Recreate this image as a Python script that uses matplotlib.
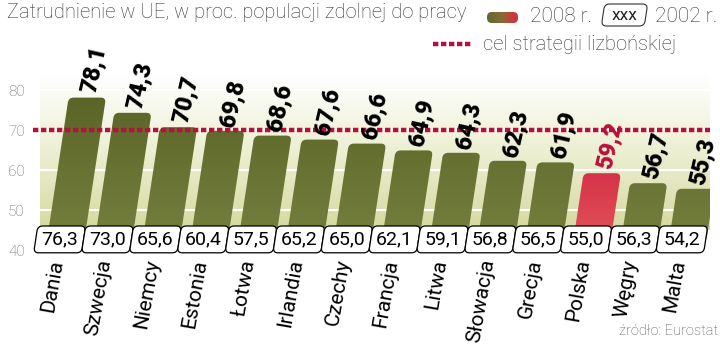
import matplotlib.pyplot as plt
import matplotlib.transforms as mtransforms
from matplotlib.patches import FancyBboxPatch
from matplotlib.colors import LinearSegmentedColormap
from matplotlib.lines import Line2D
import numpy as np

countries = ['Dania', 'Szwecja', 'Niemcy', 'Estonia', 'Łotwa', 'Irlandia', 'Czechy',
             'Francja', 'Litwa', 'Słowacja', 'Grecja', 'Polska', 'Węgry', 'Malta']
v2008 = [78.1, 74.3, 70.7, 69.8, 68.6, 67.6, 66.6, 64.9, 64.3, 62.3, 61.9, 59.2, 56.7, 55.3]
v2002 = [76.3, 73.0, 65.6, 60.4, 57.5, 65.2, 65.0, 62.1, 59.1, 56.8, 56.5, 55.0, 56.3, 54.2]
highlight = 'Polska'
target = 70
yticks = [40, 50, 60, 70, 80]

title = 'Zatrudnienie w UE, w proc. populacji zdolnej do pracy'
source = 'źródło: Eurostat'

font = ['Roboto', 'DejaVu Sans']
red = '#b8103a'


def fmt(v):
    return f'{v:.1f}'.replace('.', ',')


def skew(base, k):
    # lean everything to the right, pivot at y = base
    return (mtransforms.Affine2D().translate(0, -base)
            .skew(np.arctan(k), 0).translate(0, base))


fig = plt.figure(figsize=(7.2, 3.46), dpi=100)
ax = fig.add_axes([40 / 720, (346 - 266) / 346, 670 / 720, 200 / 346])
x = np.arange(len(countries))

# background gradient + white grid
bg = LinearSegmentedColormap.from_list('bg', ['#d6d9a0', '#ecefd2', '#ffffff'])
ax.imshow(np.linspace(0, 1, 256).reshape(-1, 1), origin='lower', cmap=bg,
          extent=(-0.5, 13.5, 45, 84), aspect='auto', zorder=0)
for g in [50, 60, 70, 80]:
    ax.axhline(g, color='white', lw=1.5, zorder=1)

green = LinearSegmentedColormap.from_list('g', ['#75803f', '#5a6427'])
reds = LinearSegmentedColormap.from_list('r', ['#e2535a', '#c70f33'])
grad = np.linspace(0, 1, 256).reshape(-1, 1)

k = 0.0127
w = 0.78
bar_tr = skew(46, k) + ax.transData
for i, (c, v) in enumerate(zip(countries, v2008)):
    patch = FancyBboxPatch((i + 0.08 - w / 2, 42), w, v - 42,
                           boxstyle='round,pad=0,rounding_size=0.105',
                           mutation_aspect=12, transform=bar_tr,
                           facecolor='none', edgecolor='none', zorder=2)
    ax.add_patch(patch)
    im = ax.imshow(grad, origin='lower', cmap=reds if c == highlight else green,
                   extent=(i - 0.6, i + 0.9, 42, 79), aspect='auto', zorder=2)
    im.set_clip_path(patch)
    ax.text(i + 0.1, v + 1.2, fmt(v), transform=bar_tr, rotation=77,
            rotation_mode='anchor', ha='left', va='center', fontsize=17,
            fontweight='heavy', family=font,
            color=red if c == highlight else 'black', zorder=5)

ax.hlines(target, -0.65, 13.5, color=red, lw=3.2, ls=(0, (1.2, 0.6)),
          zorder=4, clip_on=False)

# 2002 values in boxes
box_tr = skew(42.6, k) + ax.transData
for i, v in enumerate(v2002):
    ax.add_patch(FancyBboxPatch((i - 0.09 - 0.5, 39.3), 1.0, 6.7,
                                boxstyle='round,pad=0,rounding_size=0.1',
                                mutation_aspect=12.5, transform=box_tr,
                                facecolor='white', edgecolor='black', lw=0.9,
                                zorder=6, clip_on=False))
    ax.text(i - 0.09, 42.6, fmt(v), ha='center', va='center', fontsize=14,
            family=font, color='black', zorder=7)

for i, c in enumerate(countries):
    ax.text(i - 0.14, 37.6, c, rotation=80, rotation_mode='anchor',
            ha='right', va='center', fontsize=15, family=font,
            color='black', clip_on=False)

ax.set_xlim(-0.5, 13.5)
ax.set_ylim(36, 86)
ax.set_yticks(yticks)
ax.set_yticklabels([str(t) for t in yticks], family=font, fontweight='light',
                   fontsize=11, color='#666666')
ax.tick_params(axis='y', length=0, pad=11)
ax.set_xticks([])
for s in ax.spines.values():
    s.set_visible(False)
ax.patch.set_alpha(0)

# title and legend (positions in pixels from the top-left corner)
px = (mtransforms.Affine2D().scale(1 / 720, -1 / 346).translate(0, 1)
      + fig.transFigure)

fig.text(7, 13, title, transform=px, ha='left', va='center', fontsize=14.5,
         family=font, fontweight='light', color='#333333')

sw = fig.add_axes([487 / 720, 1 - 23 / 346, 31 / 720, 11 / 346])
sw_cm = LinearSegmentedColormap.from_list('sw', ['#5e6a30', '#8a6a34', '#e0283c'])
sw_im = sw.imshow(np.linspace(0, 1, 64).reshape(1, -1), cmap=sw_cm,
                  extent=(0, 1, 0, 1), aspect='auto')
sw_patch = FancyBboxPatch((0, 0), 1, 1, boxstyle='round,pad=0,rounding_size=0.15',
                          mutation_aspect=3, transform=sw.transAxes,
                          facecolor='none', edgecolor='none')
sw.add_patch(sw_patch)
sw_im.set_clip_path(sw_patch)
sw.axis('off')

fig.text(530, 17, '2008 r.', transform=px, ha='left', va='center',
         fontsize=15, family=font, fontweight='light', color='#333333')
leg_box = FancyBboxPatch((603, 4), 43, 22,
                         boxstyle='round,pad=0,rounding_size=5',
                         transform=(mtransforms.Affine2D().translate(0, -15)
                                    .skew(np.arctan(-0.15), 0).translate(0, 15)
                                    + px),
                         facecolor='white', edgecolor='#333333', lw=0.8)
fig.add_artist(leg_box)
fig.text(625, 16, 'xxx', transform=px, ha='center', va='center', fontsize=12.5,
         family=font, color='#222222')
fig.text(655, 17, '2002 r.', transform=px, ha='left', va='center',
         fontsize=15, family=font, fontweight='light', color='#333333')

fig.add_artist(Line2D([433, 473], [44, 44], transform=px, color=red, lw=3.2,
                      ls=(0, (1.2, 0.6))))
fig.text(483, 45, 'cel strategii lizbońskiej', transform=px, ha='left',
         va='center', fontsize=14.5, family=font, fontweight='light',
         color='#333333')

fig.text(718, 331, source, transform=px, ha='right', va='center',
         fontsize=10.5, family=font, fontweight='light', color='#555555')

fig.savefig('out.png', dpi=100)
